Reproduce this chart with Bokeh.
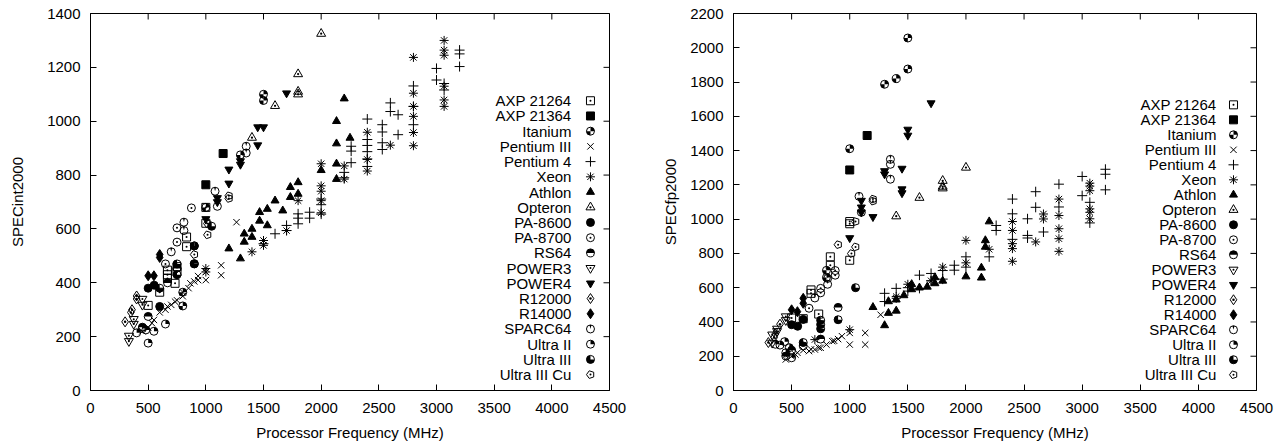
import numpy as np
from bokeh.plotting import figure
from bokeh.models import Range1d, FixedTicker, ColumnDataSource
from bokeh.layouts import row
from bokeh.embed import file_html
from bokeh.resources import INLINE
from bokeh.core.properties import value

FONT = "Liberation Sans"
FS = "15px"

series_names = ["AXP 21264", "AXP 21364", "Itanium", "Pentium III", "Pentium 4", "Xeon",
                "Athlon", "Opteron", "PA-8600", "PA-8700", "RS64", "POWER3", "POWER4",
                "R12000", "R14000", "SPARC64", "Ultra II", "Ultra III", "Ultra III Cu"]
series_kinds = ["square_dot", "square_fill", "beachball", "x", "cross", "asterisk",
                "tri_fill", "tri_dot", "circle_fill", "circle_dot", "half_top", "itri_dot",
                "itri_fill", "diamond_dot", "diamond_fill", "clock", "quarter", "three_quarter",
                "pentagon_dot"]

x_ticks = [0, 500, 1000, 1500, 2000, 2500, 3000, 3500, 4000, 4500]
int_y_ticks = [0, 200, 400, 600, 800, 1000, 1200, 1400]
fp_y_ticks = [0, 200, 400, 600, 800, 1000, 1200, 1400, 1600, 1800, 2000, 2200]

# ---------------- SPECint2000 (MHz, score) ----------------
int_axp21264_x = [500, 600, 667, 667, 667, 733, 750, 750, 833, 833, 1000, 1000]
int_axp21264_y = [316, 365, 447, 430, 416, 398, 460, 440, 570, 534, 621, 680]
int_axp21364_x = [1000, 1150]
int_axp21364_y = [764, 880]
int_itanium_x = [800, 800, 900, 1000, 1300, 1500, 1500]
int_itanium_y = [314, 365, 537, 680, 875, 1100, 1077]
int_p3_x = [450, 500, 533, 550, 600, 650, 667, 700, 733, 750, 800, 800, 850, 866, 900, 933, 933,
            1000, 1000, 1133, 1133, 1266]
int_p3_y = [220, 234, 250, 262, 290, 300, 312, 318, 330, 335, 350, 365, 380, 398, 405, 410, 425,
            410, 440, 428, 465, 625]
int_p4_x = [1500, 1600, 1700, 1700, 1800, 1800, 1800, 1900, 1900, 2000, 2000, 2000, 2200, 2200,
            2260, 2260, 2260, 2400, 2400, 2400, 2400, 2400, 2400, 2530, 2530, 2530, 2530, 2600,
            2600, 2667, 2667, 2800, 2800, 2800, 3000, 3000, 3066, 3066, 3200, 3200, 3200]
int_p4_y = [545, 582, 594, 613, 619, 640, 656, 640, 662, 655, 690, 711, 790, 810,
            846, 889, 907, 832, 860, 887, 910, 932, 1008, 895, 920, 960, 987, 1036,
            1068, 950, 1024, 987, 1055, 1131, 1153, 1196, 1116, 1140, 1203, 1250, 1264]
int_xeon_x = [1000, 1000, 1400, 1500, 1500, 1700, 1800, 2000, 2000, 2000, 2000, 2000, 2200, 2200,
              2400, 2400, 2400, 2600, 2800, 2800, 2800, 2800, 2800, 2800, 3066, 3066, 3066, 3066,
              3066, 3066]
int_xeon_y = [440, 453, 515, 539, 557, 594, 705, 660, 705, 740, 760, 842, 785, 834,
              815, 858, 959, 911, 909, 958, 1018, 1055, 1104, 1237, 1055, 1079, 1130, 1245,
              1264, 1300]
int_athlon_x = [1200, 1300, 1333, 1333, 1400, 1400, 1466, 1466, 1533, 1533, 1600, 1667, 1733, 1733,
                1800, 1800, 2000, 2133, 2133, 2133, 2133, 2200, 2250]
int_athlon_y = [527, 490, 552, 582, 570, 600, 630, 662, 613, 674, 705, 668, 718, 755,
                730, 773, 818, 785, 842, 917, 1000, 1084, 938]
int_opteron_x = [1400, 1600, 1800, 1800, 1800, 2000]
int_opteron_y = [939, 1057, 1100, 1110, 1175, 1325]
int_pa8600_x = [500, 552, 600]
int_pa8600_y = [380, 391, 312]
int_pa8700_x = [650, 750, 750, 875]
int_pa8700_y = [470, 551, 604, 678]
int_rs64_x = [450, 500, 668, 750, 900]
int_rs64_y = [235, 275, 400, 455, 471]
int_power3_x = [333, 333, 375, 375, 450, 450]
int_power3_y = [183, 203, 247, 265, 318, 340]
int_power4_x = [1000, 1100, 1100, 1200, 1200, 1300, 1300, 1450, 1450, 1500, 1700]
int_power4_y = [637, 700, 715, 769, 821, 839, 852, 911, 978, 978, 1104]
int_r12000_x = [300, 350, 360, 400, 400]
int_r12000_y = [255, 290, 300, 340, 351]
int_r14000_x = [500, 550, 600, 600]
int_r14000_y = [426, 426, 494, 505]
int_sparc64_x = [700, 810, 810, 1080, 1100, 1350, 1350]
int_sparc64_y = [515, 594, 625, 740, 684, 907, 882]
int_ultra2_x = [400, 450, 480, 500, 550, 650]
int_ultra2_y = [214, 230, 225, 176, 220, 247]
int_ultra3_x = [600, 750, 750, 900, 900, 1050]
int_ultra3_y = [380, 430, 470, 470, 537, 610]
int_ultra3cu_x = [900, 1015, 1015, 1200, 1200]
int_ultra3cu_y = [505, 578, 620, 713, 723]

# ---------------- SPECfp2000 (MHz, score) ----------------
fp_axp21264_x = [500, 600, 667, 667, 733, 833, 833, 1000, 1000, 1000]
fp_axp21264_y = [423, 419, 567, 587, 446, 731, 780, 760, 973, 986]
fp_axp21364_x = [1000, 1150]
fp_axp21364_y = [1287, 1488]
fp_itanium_x = [800, 800, 1000, 1300, 1400, 1500, 1500]
fp_itanium_y = [660, 701, 1411, 1787, 1820, 1876, 2057]
fp_p3_x = [450, 500, 533, 550, 600, 650, 667, 700, 733, 750, 800, 850, 866, 900, 933, 1000, 1000,
           1133, 1133, 1266]
fp_p3_y = [181, 200, 210, 220, 235, 230, 240, 239, 250, 249, 268, 288, 290, 300, 317, 336, 268,
           268, 336, 442]
fp_p4_x = [1300, 1300, 1400, 1500, 1500, 1600, 1600, 1700, 1700, 1800, 1800, 1900, 1900, 2000, 2000,
           2200, 2260, 2260, 2400, 2400, 2400, 2530, 2530, 2530, 2600, 2600, 2667, 2800, 2800, 3000,
           3000, 3066, 3066, 3200, 3200, 3200]
fp_p4_y = [519, 567, 596, 580, 600, 596, 673, 640, 683, 650, 700, 702, 731, 720, 780,
           780, 934, 963, 882, 1031, 1117, 890, 905, 1002, 1069, 1160, 925, 1071, 1204, 1137,
           1249, 978, 1098, 1171, 1262, 1291]
fp_xeon_x = [700, 1000, 1400, 1400, 1500, 1700, 1800, 2000, 2000, 2200, 2400, 2400, 2400, 2400, 2400,
             2600, 2667, 2667, 2800, 2800, 2800, 2800, 2800, 3066, 3066, 3066, 3066, 3066, 3066]
fp_xeon_y = [297, 355, 538, 548, 620, 640, 720, 745, 876, 824, 754, 828, 857, 934, 986,
             867, 1001, 1030, 812, 886, 944, 1021, 1117, 1002, 1040, 1060, 1166, 1193, 1210]
fp_athlon_x = [1200, 1300, 1333, 1333, 1400, 1400, 1466, 1533, 1533, 1600, 1667, 1733, 1733, 1800,
               2000, 2133, 2133, 2167, 2167, 2200]
fp_athlon_y = [486, 380, 452, 520, 465, 530, 555, 590, 620, 600, 605, 625, 660, 640,
               665, 658, 716, 838, 876, 986]
fp_opteron_x = [1400, 1600, 1800, 1800, 1800, 2000]
fp_opteron_y = [1017, 1125, 1180, 1190, 1224, 1301]
fp_pa8600_x = [500, 552, 600]
fp_pa8600_y = [384, 375, 415]
fp_pa8700_x = [650, 750, 750, 875, 875]
fp_pa8700_y = [480, 570, 596, 673, 700]
fp_rs64_x = [450, 500, 600, 750, 900]
fp_rs64_y = [201, 235, 260, 300, 485]
fp_power3_x = [333, 333, 375, 375, 450, 450]
fp_power3_y = [278, 326, 346, 360, 410, 432]
fp_power4_x = [1000, 1100, 1100, 1100, 1200, 1300, 1300, 1450, 1450, 1450, 1500, 1500, 1700]
fp_power4_y = [890, 1040, 1069, 1108, 1013, 1262, 1281, 1152, 1175, 1295, 1488, 1523, 1677]
fp_r12000_x = [300, 350, 360, 400]
fp_r12000_y = [280, 310, 330, 387]
fp_r14000_x = [500, 550, 600, 600]
fp_r14000_y = [471, 460, 509, 538]
fp_sparc64_x = [700, 810, 810, 1080, 1100, 1350, 1350, 1350]
fp_sparc64_y = [540, 620, 654, 1133, 1040, 1233, 1320, 1349]
fp_ultra2_x = [360, 400, 440, 450, 480, 500]
fp_ultra2_y = [270, 265, 285, 220, 250, 191]
fp_ultra3_x = [600, 750, 750, 750, 900, 1050]
fp_ultra3_y = [280, 360, 385, 410, 413, 600]
fp_ultra3cu_x = [900, 1015, 1050, 1050, 1200, 1200]
fp_ultra3cu_y = [851, 799, 838, 986, 1105, 1117]

int_series = [
    (int_axp21264_x, int_axp21264_y), (int_axp21364_x, int_axp21364_y), (int_itanium_x, int_itanium_y),
    (int_p3_x, int_p3_y), (int_p4_x, int_p4_y), (int_xeon_x, int_xeon_y), (int_athlon_x, int_athlon_y),
    (int_opteron_x, int_opteron_y), (int_pa8600_x, int_pa8600_y), (int_pa8700_x, int_pa8700_y),
    (int_rs64_x, int_rs64_y), (int_power3_x, int_power3_y), (int_power4_x, int_power4_y),
    (int_r12000_x, int_r12000_y), (int_r14000_x, int_r14000_y), (int_sparc64_x, int_sparc64_y),
    (int_ultra2_x, int_ultra2_y), (int_ultra3_x, int_ultra3_y), (int_ultra3cu_x, int_ultra3cu_y)]
fp_series = [
    (fp_axp21264_x, fp_axp21264_y), (fp_axp21364_x, fp_axp21364_y), (fp_itanium_x, fp_itanium_y),
    (fp_p3_x, fp_p3_y), (fp_p4_x, fp_p4_y), (fp_xeon_x, fp_xeon_y), (fp_athlon_x, fp_athlon_y),
    (fp_opteron_x, fp_opteron_y), (fp_pa8600_x, fp_pa8600_y), (fp_pa8700_x, fp_pa8700_y),
    (fp_rs64_x, fp_rs64_y), (fp_power3_x, fp_power3_y), (fp_power4_x, fp_power4_y),
    (fp_r12000_x, fp_r12000_y), (fp_r14000_x, fp_r14000_y), (fp_sparc64_x, fp_sparc64_y),
    (fp_ultra2_x, fp_ultra2_y), (fp_ultra3_x, fp_ultra3_y), (fp_ultra3cu_x, fp_ultra3cu_y)]

SZ = 8
K = "black"


def dot(p, xs, ys):
    p.scatter(xs, ys, marker="circle", size=2.0, fill_color=K, line_color=None)


def wedge(p, xs, ys, a0, a1):
    p.wedge(x=xs, y=ys, radius=SZ / 2.0, radius_units="screen", start_angle=a0, end_angle=a1,
            fill_color=K, line_color=None)


def open_circle(p, xs, ys):
    p.scatter(xs, ys, marker="circle", size=SZ, fill_color=None, line_color=K, line_width=1)


def draw(p, kind, xs, ys):
    xs = list(xs)
    ys = list(ys)
    if kind == "square_dot":
        p.scatter(xs, ys, marker="square_dot", size=SZ, fill_color=None, line_color=K, line_width=1)
    elif kind == "square_fill":
        p.scatter(xs, ys, marker="square", size=SZ, fill_color=K, line_color=K)
    elif kind == "beachball":
        wedge(p, xs, ys, 0, np.pi / 2)
        wedge(p, xs, ys, np.pi, 1.5 * np.pi)
        open_circle(p, xs, ys)
    elif kind == "x":
        p.scatter(xs, ys, marker="x", size=SZ + 1, line_color=K, line_width=1)
    elif kind == "cross":
        p.scatter(xs, ys, marker="cross", size=SZ + 2, line_color=K, line_width=1)
    elif kind == "asterisk":
        p.scatter(xs, ys, marker="asterisk", size=SZ + 1, line_color=K, line_width=1)
    elif kind == "tri_fill":
        p.scatter(xs, ys, marker="triangle", size=SZ, fill_color=K, line_color=K)
    elif kind == "tri_dot":
        p.scatter(xs, ys, marker="triangle_dot", size=SZ + 1, fill_color=None, line_color=K, line_width=1)
    elif kind == "circle_fill":
        p.scatter(xs, ys, marker="circle", size=SZ, fill_color=K, line_color=K)
    elif kind == "circle_dot":
        p.scatter(xs, ys, marker="circle_dot", size=SZ, fill_color=None, line_color=K, line_width=1)
    elif kind == "half_top":
        wedge(p, xs, ys, 0, np.pi)
        open_circle(p, xs, ys)
    elif kind == "itri_dot":
        p.scatter(xs, ys, marker="inverted_triangle", size=SZ + 1, fill_color=None, line_color=K, line_width=1)
        dot(p, xs, ys)
    elif kind == "itri_fill":
        p.scatter(xs, ys, marker="inverted_triangle", size=SZ, fill_color=K, line_color=K)
    elif kind == "diamond_dot":
        p.scatter(xs, ys, marker="diamond_dot", size=SZ + 2, fill_color=None, line_color=K, line_width=1)
    elif kind == "diamond_fill":
        p.scatter(xs, ys, marker="diamond", size=SZ + 2, fill_color=K, line_color=K)
    elif kind == "clock":
        wedge(p, xs, ys, np.pi / 2 - 0.25, np.pi / 2 + 0.25)
        open_circle(p, xs, ys)
    elif kind == "quarter":
        wedge(p, xs, ys, 0, np.pi / 2)
        open_circle(p, xs, ys)
    elif kind == "three_quarter":
        wedge(p, xs, ys, np.pi / 2, 2 * np.pi)
        open_circle(p, xs, ys)
    elif kind == "pentagon_dot":
        try:
            p.ngon(x=xs, y=ys, radius=SZ / 2.0, radius_units="screen", n=5, angle=np.pi / 2,
                   fill_color=None, line_color=K, line_width=1)
        except Exception:
            p.scatter(xs, ys, marker="hex", size=SZ, fill_color=None, line_color=K, line_width=1)
        dot(p, xs, ys)


def make_plot(series, ylabel, yticks, ymax, border_left, border_right, ylabel_standoff,
              key_text_x, key_mark_x, key_top_y, key_step_y):
    W, H = 643, 443
    top, bottom = 13, 50
    p = figure(width=W, height=H, x_range=Range1d(0, 4500), y_range=Range1d(0, ymax),
               output_backend="svg", toolbar_location=None,
               min_border_left=border_left, min_border_right=border_right,
               min_border_top=top, min_border_bottom=bottom)
    p.background_fill_color = "white"
    p.border_fill_color = "white"
    p.outline_line_color = K
    p.outline_line_width = 1
    p.xgrid.grid_line_color = None
    p.ygrid.grid_line_color = None

    for ax, ticks in ((p.xaxis[0], x_ticks), (p.yaxis[0], yticks)):
        ax.ticker = FixedTicker(ticks=ticks)
        ax.major_tick_in = 6
        ax.major_tick_out = 0
        ax.minor_tick_line_color = None
        ax.axis_line_color = K
        ax.major_tick_line_color = K
        ax.major_label_text_font = FONT
        ax.major_label_text_font_size = FS
        ax.major_label_text_color = K
        ax.axis_label_text_font = FONT
        ax.axis_label_text_font_size = FS
        ax.axis_label_text_font_style = "normal"
        ax.axis_label_text_color = K
    p.xaxis.axis_label = "Processor Frequency (MHz)"
    p.yaxis.axis_label = ylabel
    p.xaxis.major_label_standoff = 12
    p.xaxis.axis_label_standoff = 8
    p.yaxis.major_label_standoff = 10
    p.yaxis.axis_label_standoff = ylabel_standoff

    # mirrored inward ticks on top and right borders (half of each dash is clipped by the frame)
    p.scatter(x_ticks, [ymax] * len(x_ticks), marker="dash", angle=np.pi / 2, size=12,
              line_color=K, line_width=1)
    p.scatter([4500] * len(yticks), yticks, marker="dash", angle=0, size=12,
              line_color=K, line_width=1)

    for kind, (xs, ys) in zip(series_kinds, series):
        draw(p, kind, xs, ys)

    # key (gnuplot style: right-aligned text, sample on the right)
    n = len(series_names)
    ly = [key_top_y - i * key_step_y for i in range(n)]
    src = ColumnDataSource(dict(x=[key_text_x] * n, y=ly, t=series_names))
    p.text(x="x", y="y", text="t", source=src, text_align="right", text_baseline="middle",
           text_font=value(FONT), text_font_size=value(FS), text_color=K)
    for i, kind in enumerate(series_kinds):
        draw(p, kind, [key_mark_x], [ly[i]])
    return p


# key positions in data units (text right edge, sample centre, first row, row step)
p1 = make_plot(int_series, "SPECint2000", int_y_ticks, 1400, 90, 34, 18,
               4170, 4335, 1076, 56.5)
p2 = make_plot(fp_series, "SPECfp2000", fp_y_ticks, 2200, 90, 30, 8,
               4155, 4302, 1667, 87.5)

layout = row(p1, p2)
open("out.html", "w").write(file_html(layout, INLINE))
